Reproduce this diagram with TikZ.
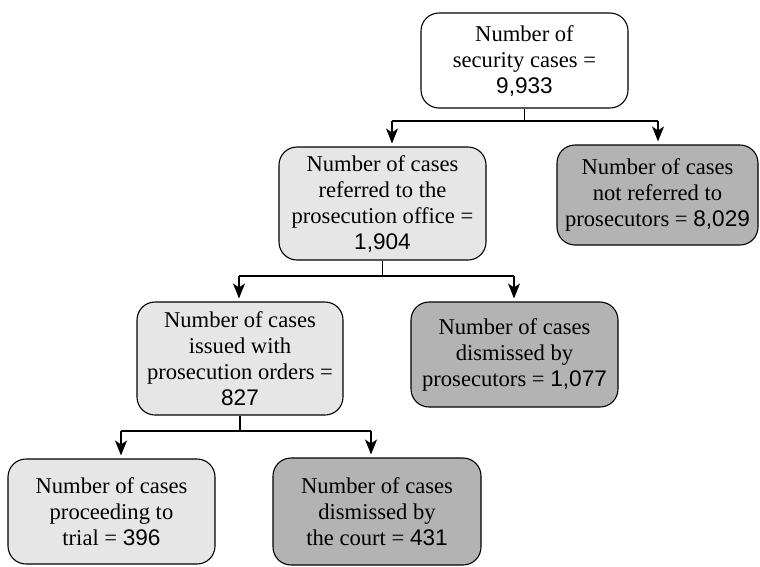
\documentclass[tikz,border=0pt]{standalone}
\usepackage{fontspec}
\setmainfont{Liberation Serif}
\newfontfamily\numf{Liberation Sans}
\usetikzlibrary{arrows.meta}
\definecolor{lightbox}{HTML}{E6E6E6}
\definecolor{darkbox}{HTML}{B3B3B3}
\tikzset{
  box/.style={draw=black, line width=1.1pt, rounded corners=18pt, align=center,
    inner sep=0pt, font=\fontsize{22.6}{26}\selectfont},
  lightnode/.style={box, fill=lightbox},
  darknode/.style={box, fill=darkbox},
  whitenode/.style={box, fill=white},
  conn/.style={draw=black, line width=1.1pt},
  arr/.style={conn, -{Stealth[length=15pt,width=12pt,inset=4pt]}, shorten >=3pt},
}
\begin{document}
\begin{tikzpicture}[x=1pt,y=-1pt]
\useasboundingbox (0,0) rectangle (760,566);
\node[whitenode, minimum width=207pt, minimum height=95pt] (root) at (524.5,60.5)
  {Number of\\security cases =\\{\numf 9,933}};
\node[lightnode, minimum width=207pt, minimum height=113pt] (A) at (382.5,203.5)
  {Number of cases\\referred to the\\prosecution office =\\{\numf 1,904}};
\node[darknode, minimum width=201pt, minimum height=100pt] (B) at (657.5,195)
  {Number of cases\\not referred to\\prosecutors = {\numf 8,029}};
\node[lightnode, minimum width=206pt, minimum height=113pt] (C) at (240,358.5)
  {Number of cases\\issued with\\prosecution orders =\\{\numf 827}};
\node[darknode, minimum width=207pt, minimum height=105pt] (D) at (514.5,354.5)
  {Number of cases\\dismissed by\\prosecutors = {\numf 1,077}};
\node[lightnode, minimum width=207pt, minimum height=105pt] (E) at (111.5,511.5)
  {Number of cases\\proceeding to\\trial = {\numf 396}};
\node[darknode, minimum width=208pt, minimum height=107pt] (F) at (377,511.5)
  {Number of cases\\dismissed by\\the court = {\numf 431}};
% level 1
\coordinate (r1) at (392,121);
\coordinate (r2) at (658,121);
\draw[conn] (root.south) -- (root.south |- r1);
\draw[conn] (r1) -- (r2);
\draw[arr] (r1) -- (r1 |- A.north);
\draw[arr] (r2) -- (r2 |- B.north);
% level 2
\coordinate (a1) at (239,276);
\coordinate (a2) at (514,276);
\draw[conn] (A.south) -- (A.south |- a1);
\draw[conn] (a1) -- (a2);
\draw[arr] (a1) -- (a1 |- C.north);
\draw[arr] (a2) -- (a2 |- D.north);
% level 3
\coordinate (c1) at (121,431);
\coordinate (c2) at (371,431);
\draw[conn] (C.south) -- (C.south |- c1);
\draw[conn] (c1) -- (c2);
\draw[arr] (c1) -- (c1 |- E.north);
\draw[arr] (c2) -- (c2 |- F.north);
\end{tikzpicture}
\end{document}
